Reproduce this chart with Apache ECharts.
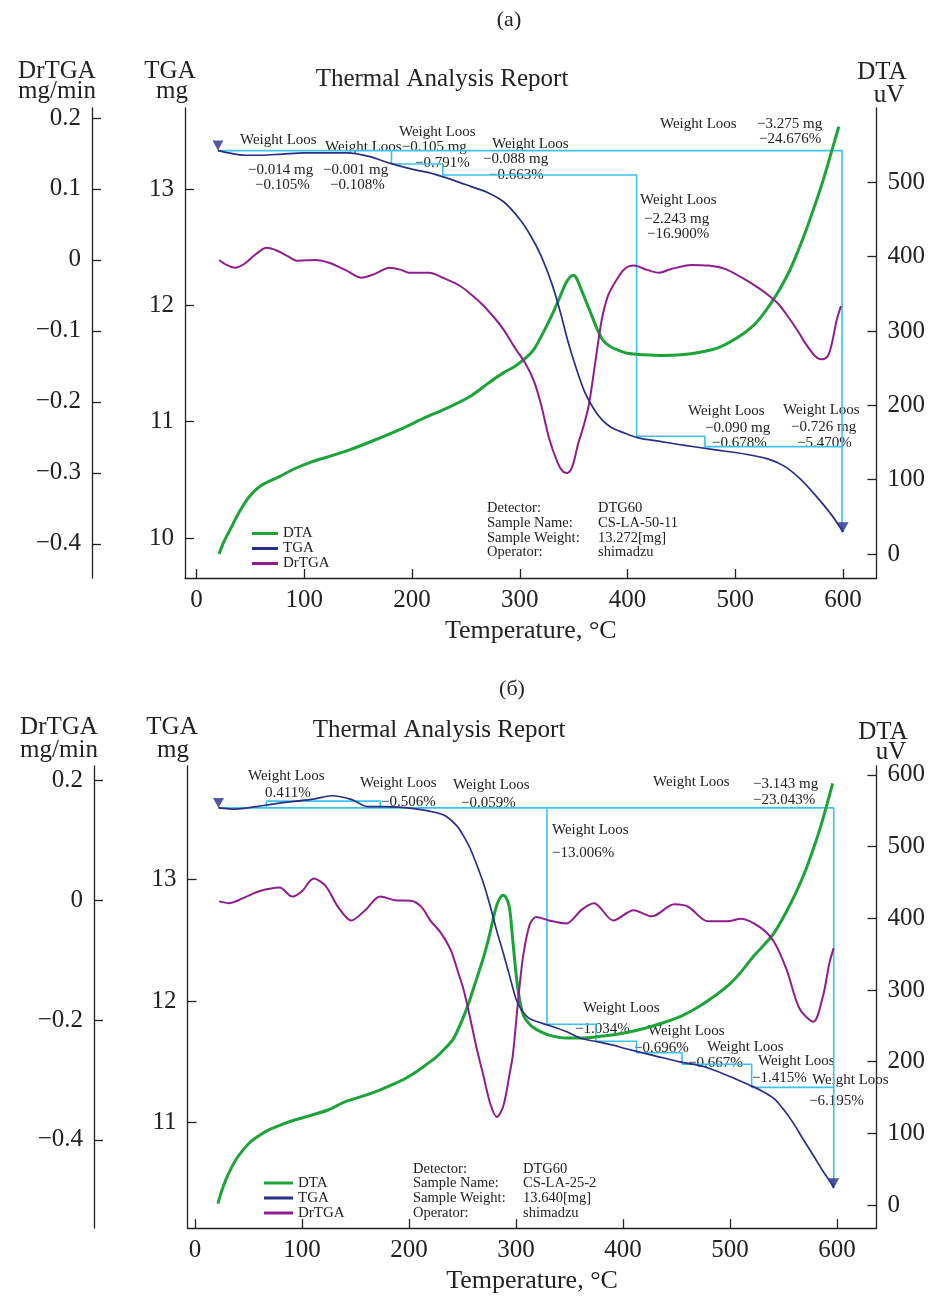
<!DOCTYPE html>
<html><head><meta charset="utf-8">
<script src="https://cdn.jsdelivr.net/npm/echarts@6/dist/echarts.min.js"></script>
<style>html,body{margin:0;padding:0;background:#fff;}
#a{position:absolute;left:0;top:0;width:928px;height:650px;}
#b{position:absolute;left:0;top:650px;width:928px;height:649px;}</style>
</head><body><div id="a"></div><div id="b"></div>
<script>
// ---------- Panel (a) data ----------
const tgaA_T  = [20,30,45,60,80,100,120,140,160,180,200,220,240,255,270,285,300,310,320,330,338,345,352,360,368,376,385,395,410,430,450,480,510,530,545,560,575,590,600];
const tgaA_mg = [13.33,13.31,13.29,13.29,13.30,13.31,13.31,13.31,13.28,13.22,13.17,13.13,13.07,13.02,12.97,12.89,12.74,12.60,12.42,12.18,11.93,11.68,11.47,11.26,11.12,11.02,10.95,10.91,10.86,10.83,10.80,10.76,10.72,10.68,10.62,10.51,10.36,10.19,10.05];
const dtaA_T  = [21,25,31,40,49,60,77,90,105,125,142,165,188,210,235,255,271,285,295,305,313,320,326,331,337,343,347,350,353,357,362,367,372,377,383,390,400,415,433,450,466,485,506,520,537,550,558,566,574,582,589,596];
const dtaA_uV = [0,15,32,57,77,92,104,114,123,132,140,153,167,182,198,213,230,244,252,263,275,293,310,325,345,365,373,375,370,356,338,320,302,288,280,275,270,268,267,268,271,278,295,312,346,380,407,437,470,505,540,575];
const drA_T   = [21,28,36,45,55,65,75,85,93,111,123,138,153,165,179,190,197,216,230,244,256,268,284,296,305,313,320,327,335,340,344,349,354,359,364,370,376,382,389,397,406,418,429,440,459,475,491,505,521,531,540,549,558,564,570,576,581,586,590,594,598];
const drA_v   = [0,-0.007,-0.011,-0.005,0.008,0.017,0.013,0.005,-0.001,0,-0.004,-0.014,-0.025,-0.020,-0.011,-0.014,-0.018,-0.018,-0.026,-0.036,-0.050,-0.067,-0.096,-0.125,-0.145,-0.170,-0.205,-0.250,-0.285,-0.298,-0.300,-0.290,-0.260,-0.235,-0.205,-0.145,-0.085,-0.050,-0.030,-0.013,-0.008,-0.014,-0.018,-0.013,-0.007,-0.008,-0.013,-0.024,-0.039,-0.050,-0.062,-0.080,-0.100,-0.115,-0.128,-0.138,-0.140,-0.135,-0.115,-0.085,-0.065];
const stepA_T  = [181,181,228.6,228.6,408.4,408.4,471.8,471.8,599];
const stepA_mg = [13.33,13.215,13.215,13.12,13.12,10.875,10.875,10.785,10.785];
const totalA_T  = [20,599,599];
const totalA_mg = [13.33,13.33,10.05];

// ---------- Panel (б) data ----------
const tgaB_T  = [22,38,57,79,109,128,146,162,177,208,226,235,245,251,257,263,270,276,282,288,294,300,305,312,320,331,347,362,374,390,402,411,430,453,476,500,518,530,541,550,559,568,578,587,594,597];
const tgaB_mg = [13.59,13.58,13.60,13.63,13.66,13.69,13.66,13.60,13.60,13.58,13.55,13.52,13.44,13.36,13.26,13.13,12.96,12.78,12.58,12.40,12.21,12.02,11.93,11.86,11.83,11.80,11.75,11.69,11.67,11.64,11.61,11.59,11.55,11.50,11.46,11.38,11.31,11.26,11.20,11.11,11.00,10.87,10.73,10.60,10.51,10.46];
const dtaB_T  = [21.5,25,29,34,38.5,45,51,60,69,82,94,110,125,140,159,172,186,197,208,218,226,234,242,254,262,270,275,279,283,288,291,294,297,300,303,307,313,319,331,347,362,377,393,408,424,439,455,470,486,501,512,522,532,541,552,563,571,578,584,590,596];
const dtaB_uV = [2,20,36,52,64,77,87,97,105,113,119,126,133,144,153,160,169,177,187,198,207,219,233,274,310,347,375,401,422,432,428,414,370,324,290,265,252,245,237,233,233,235,238,242,248,255,264,276,292,310,328,347,363,379,407,440,468,497,524,555,588];
const drB_T   = [22.5,32,48,60,79,91,100,111,122,134,146,159,173,187,202,212,220,230,239,245,251,257,263,270,276,282,288,294,297,299,303,307,313,319,331,347,362,373,391,410,427,448,461,479,498,510,528,541,553,565,578,587,593,597];
const drB_v   = [-0.002,-0.005,0.006,0.015,0.021,0.006,0.015,0.036,0.024,-0.012,-0.034,-0.017,0.006,0,-0.001,-0.012,-0.034,-0.055,-0.083,-0.115,-0.149,-0.195,-0.245,-0.296,-0.340,-0.362,-0.345,-0.291,-0.260,-0.225,-0.150,-0.090,-0.040,-0.028,-0.034,-0.039,-0.015,-0.005,-0.034,-0.017,-0.027,-0.007,-0.011,-0.035,-0.035,-0.031,-0.045,-0.069,-0.116,-0.181,-0.203,-0.160,-0.105,-0.080];
const stepB_T  = [329,329,374.7,374.7,412.7,412.7,455.3,455.3,520.3,520.3,597];
const stepB_mg = [13.59,11.81,11.81,11.67,11.67,11.575,11.575,11.48,11.48,11.29,11.29];
const boxB_T   = [66.8,66.8,173.1,173.1];
const boxB_mg  = [13.59,13.646,13.646,13.59];
const totalB_T  = [22,597,597];
const totalB_mg = [13.59,13.59,10.46];

// ---------- tick labels ----------
const xTicks   = [0,100,200,300,400,500,600];
const tgaTicksA = [10,11,12,13];
const drTicksA  = [-0.4,-0.3,-0.2,-0.1,0,0.1,0.2];
const dtaTicksA = [0,100,200,300,400,500];
const tgaTicksB = [11,12,13];
const drTicksB  = [-0.4,-0.2,0,0.2];
const dtaTicksB = [0,100,200,300,400,500,600];

// ---------- annotation texts (pixel layout) ----------
const annotA = [
 ['Weight Loos',240,140],['−0.014 mg',248,170],['−0.105%',255,185],
 ['Weight Loos−0.105 mg',325,147],['−0.001 mg',323,170],['−0.108%',330,185],
 ['Weight Loos',399,132],['−0.791%',415,163],
 ['Weight Loos',492,144],['−0.088 mg',483,159],['−0.663%',489,175],
 ['Weight Loos',640,200],['−2.243 mg',644,219],['−16.900%',647,234],
 ['Weight Loos',660,124],['−3.275 mg',757,124],['−24.676%',759,139],
 ['Weight Loos',688,411],['−0.090 mg',705,428],['−0.678%',712,443],
 ['Weight Loos',783,410],['−0.726 mg',791,427],['−5.470%',797,443]
];
const annotB = [
 ['Weight Loos',248,126],['0.411%',265,143],
 ['Weight Loos',360,133],['−0.506%',381,152],
 ['Weight Loos',453,135],['−0.059%',461,153],
 ['Weight Loos',653,132],['−3.143 mg',753,134],['−23.043%',753,150],
 ['Weight Loos',552,180],['−13.006%',552,203],
 ['Weight Loos',583,358],['−1.034%',575,379],
 ['Weight Loos',648,381],['−0.696%',634,398],
 ['Weight Loos',707,397],['−0.667%',688,413],
 ['Weight Loos',758,411],['−1.415%',752,428],
 ['Weight Loos',812,430],['−6.195%',809,451]
];
const infoLabels = ['Detector:','Sample Name:','Sample Weight:','Operator:'];
const infoA = ['DTG60','CS-LA-50-11','13.272[mg]','shimadzu'];
const infoB = ['DTG60','CS-LA-25-2','13.640[mg]','shimadzu'];

const SERIF = '"Liberation Serif","Times New Roman",serif';
const INK = '#222';
const C_DTA = '#1da33a', C_TGA = '#2b2e85', C_DR = '#8e1e8e', C_STEP = '#3cc2ee';

const zip = (a,b) => a.map((v,i)=>[v,b[i]]);
const fmt = v => (v<0 ? '−'+String(-v) : String(v));

function txt(s,x,y,size,align){
  return {type:'text', x:x, y:y, silent:true,
    style:{text:s, fontSize:size, fontFamily:SERIF, fill:INK, align:align||'left', verticalAlign:'middle'}};
}

function yAx(min,max,ticks,pos,offset){
  return {type:'value', min:min, max:max, position:pos, offset:offset,
    axisLine:{show:true,onZero:false,lineStyle:{color:INK,width:1.3}},
    axisTick:{show:true,inside:true,length:9,customValues:ticks,lineStyle:{color:INK,width:1.3}},
    axisLabel:{customValues:ticks,margin:11,fontSize:25,color:INK,fontFamily:SERIF,formatter:fmt},
    splitLine:{show:false}};
}

function build(p){
  const g = [];
  g.push(txt(p.tag, p.tagPos[0], p.tagPos[1], 22, 'center'));
  g.push(txt('Thermal Analysis Report', p.titlePos[0], p.titlePos[1], 25, 'center'));
  p.axisTitles.forEach(a => g.push(txt(a[0], a[1], a[2], 25, 'center')));
  p.annot.forEach(a => g.push(txt(a[0], a[1], a[2], 15, 'left')));
  infoLabels.forEach((s,i) => {
    g.push(txt(s, p.infoX[0], p.infoY[i], 14.5, 'left'));
    g.push(txt(p.info[i], p.infoX[1], p.infoY[i], 14.5, 'left'));
  });
  const stepStyle = {color:C_STEP, width:1.6};
  const series = [
    {name:'steps', type:'line', yAxisIndex:0, data:zip(p.totalT,p.totalMg), symbol:'none', lineStyle:stepStyle, z:1, silent:true},
    {name:'steps', type:'line', yAxisIndex:0, data:zip(p.stepT,p.stepMg), symbol:'none', lineStyle:stepStyle, z:1, silent:true}
  ];
  if (p.boxT) series.push({name:'steps', type:'line', yAxisIndex:0, data:zip(p.boxT,p.boxMg), symbol:'none', lineStyle:stepStyle, z:1, silent:true});
  series.push(
    {name:'DTA', type:'line', yAxisIndex:2, data:zip(p.dtaT,p.dtaV), symbol:'none', smooth:0.3, color:C_DTA, lineStyle:{color:C_DTA,width:3}, z:3},
    {name:'TGA', type:'line', yAxisIndex:0, data:zip(p.tgaT,p.tgaV), symbol:'none', smooth:0.3, color:C_TGA, lineStyle:{color:C_TGA,width:1.7}, z:4},
    {name:'DrTGA', type:'line', yAxisIndex:1, data:zip(p.drT,p.drV), symbol:'none', smooth:0.3, color:C_DR, lineStyle:{color:C_DR,width:2}, z:3},
    {name:'marks', type:'scatter', yAxisIndex:0, symbol:'triangle', symbolRotate:180, symbolSize:[11,10], symbolOffset:[0,'-50%'],
      itemStyle:{color:C_TGA}, z:5, silent:true,
      data:[[p.tgaT[0],p.tgaV[0]],[p.tgaT[p.tgaT.length-1],p.tgaV[p.tgaV.length-1]]]}
  );
  return {
    animation:false,
    textStyle:{fontFamily:SERIF},
    grid:{left:p.grid[0], top:p.grid[1], width:p.grid[2], height:p.grid[3], containLabel:false},
    legend:{data:['DTA','TGA','DrTGA'], orient:'vertical', left:p.legend[0], top:p.legend[1], padding:0,
      itemGap:0, itemWidth:p.legend[2], itemHeight:3, icon:'rect',
      textStyle:{fontSize:15, lineHeight:p.legend[3], color:INK, fontFamily:SERIF, padding:0}},
    xAxis:{type:'value', min:p.xMin, max:p.xMax,
      axisLine:{show:true,onZero:false,lineStyle:{color:INK,width:1.3}},
      axisTick:{show:true,inside:true,length:9,customValues:xTicks,lineStyle:{color:INK,width:1.3}},
      axisLabel:{customValues:xTicks,margin:10,fontSize:25,color:INK,fontFamily:SERIF},
      splitLine:{show:false},
      name:'Temperature, °C', nameLocation:'middle', nameGap:37,
      nameTextStyle:{fontSize:26,color:INK,fontFamily:SERIF}},
    yAxis:[
      yAx(p.tga[0],p.tga[1],p.tga[2],'left',0),
      yAx(p.dr[0],p.dr[1],p.dr[2],'left',p.drOffset),
      yAx(p.dta[0],p.dta[1],p.dta[2],'right',0)
    ],
    series:series,
    graphic:g
  };
}

const optA = build({
  tag:'(a)', tagPos:[509,20], titlePos:[442,79],
  axisTitles:[['DrTGA',57,71],['mg/min',57,91],['TGA',170,71],['mg',172,91],['DTA',882,72],['uV',889,95]],
  annot:annotA, info:infoA, infoX:[487,598], infoY:[508,523,538,552],
  grid:[185,108,692,470], xMin:-10.6, xMax:631,
  tga:[9.656,13.696,tgaTicksA], dr:[-0.448,0.214,drTicksA], dta:[-32.3,600,dtaTicksA], drOffset:93,
  legend:[252,526,26,12.5],
  tgaT:tgaA_T, tgaV:tgaA_mg, dtaT:dtaA_T, dtaV:dtaA_uV, drT:drA_T, drV:drA_v,
  stepT:stepA_T, stepMg:stepA_mg, totalT:totalA_T, totalMg:totalA_mg
});
const optB = build({
  tag:'(б)', tagPos:[512,39], titlePos:[439,80],
  axisTitles:[['DrTGA',59,77],['mg/min',59,100],['TGA',172,77],['mg',173,100],['DTA',883,82],['uV',891,102]],
  annot:annotB, info:infoB, infoX:[413,523], infoY:[519,533,548,563],
  grid:[187.5,116,692,470.7], xMin:-7, xMax:637,
  tga:[10.132,13.935,tgaTicksB], dr:[-0.5475,0.224,drTicksB], dta:[-32,612.3,dtaTicksB], drOffset:93.5,
  legend:[264,525.5,29,12],
  tgaT:tgaB_T, tgaV:tgaB_mg, dtaT:dtaB_T, dtaV:dtaB_uV, drT:drB_T, drV:drB_v,
  stepT:stepB_T, stepMg:stepB_mg, boxT:boxB_T, boxMg:boxB_mg, totalT:totalB_T, totalMg:totalB_mg
});

echarts.init(document.getElementById('a')).setOption(optA);
echarts.init(document.getElementById('b')).setOption(optB);
</script></body></html>
